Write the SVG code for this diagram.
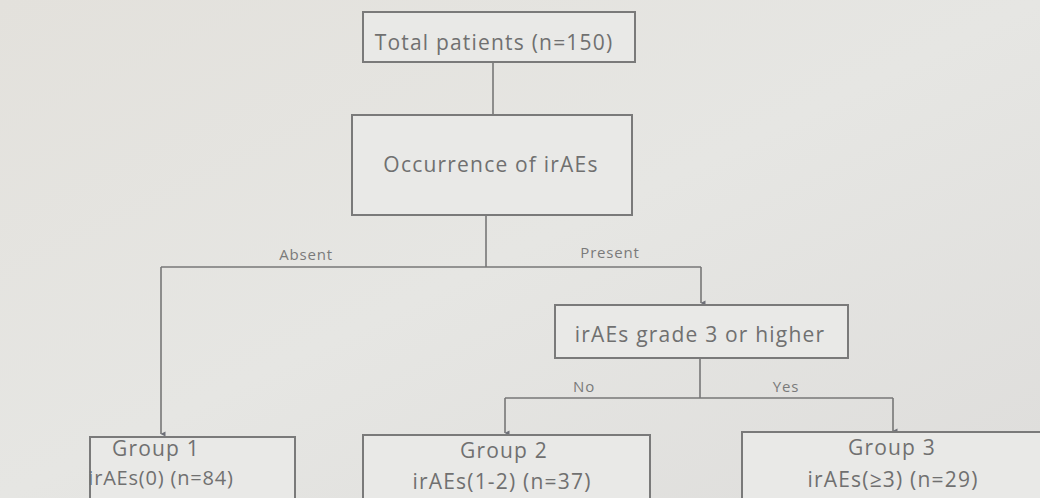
<svg xmlns="http://www.w3.org/2000/svg" width="1040" height="498" viewBox="0 0 1040 498">
<defs>
<linearGradient id="bg" x1="0" y1="0" x2="1" y2="1">
<stop offset="0" stop-color="#e3e1dc"/>
<stop offset="0.5" stop-color="#e6e6e3"/>
<stop offset="1" stop-color="#dedddb"/>
</linearGradient>
<marker id="arr" viewBox="0 0 6 6" refX="3" refY="5.5" markerWidth="6" markerHeight="6" orient="auto-start-reverse" markerUnits="userSpaceOnUse">
<path d="M0.5,1 L3,6 L5.5,1 Z" fill="#6e7078"/>
</marker>
<style>
.box{fill:#e9e9e7;stroke:#7a7a7a;stroke-width:2}
.t{font-family:"Open Sans","Noto Sans","DejaVu Sans",sans-serif;fill:#707070;text-anchor:middle;font-size:21px;letter-spacing:1.2px}
.lbl{font-family:"Open Sans","Noto Sans","DejaVu Sans",sans-serif;fill:#7a7a7a;font-size:15px;letter-spacing:0.8px;text-anchor:middle}
.ln{fill:none;stroke:#777;stroke-width:1.6}
</style>
</defs>
<rect width="1040" height="498" fill="url(#bg)"/>
<g id="connectors">
<path class="ln" d="M493,63 V115"/>
<path class="ln" d="M486,216 V267"/>
<path class="ln" d="M161,267 H701"/>
<path class="ln" d="M161,267 V434" marker-end="url(#arr)"/>
<path class="ln" d="M701,267 V303" marker-end="url(#arr)"/>
<path class="ln" d="M700,359 V398"/>
<path class="ln" d="M505,398 H893"/>
<path class="ln" d="M505,398 V433" marker-end="url(#arr)"/>
<path class="ln" d="M893,398 V431" marker-end="url(#arr)"/>
<text class="lbl" x="306" y="260">Absent</text>
<text class="lbl" x="610" y="258">Present</text>
<text class="lbl" x="584" y="392">No</text>
<text class="lbl" x="786" y="392">Yes</text>
</g>
<g id="total">
<rect class="box" x="363" y="12" width="272" height="50"/>
<text class="t" x="494" y="50">Total patients (n=150)</text>
</g>
<g id="occurrence">
<rect class="box" x="352" y="115" width="280" height="100"/>
<text class="t" x="491" y="172">Occurrence of irAEs</text>
</g>
<g id="grade">
<rect class="box" x="555" y="305" width="293" height="53"/>
<text class="t" x="700" y="342">irAEs grade 3 or higher</text>
</g>
<g id="group1">
<rect class="box" x="90" y="437" width="205" height="70"/>
<text class="t" x="156" y="456">Group 1</text>
<text class="t" x="161" y="485" style="font-size:20px;letter-spacing:0.8px">irAEs(0) (n=84)</text>
</g>
<g id="group2">
<rect class="box" x="363" y="435" width="287" height="70"/>
<text class="t" x="504" y="458">Group 2</text>
<text class="t" x="502" y="489">irAEs(1-2) (n=37)</text>
</g>
<g id="group3">
<rect class="box" x="742" y="432" width="300" height="70"/>
<text class="t" x="892" y="455">Group 3</text>
<text class="t" x="893" y="487">irAEs(≥3) (n=29)</text>
</g>
</svg>
